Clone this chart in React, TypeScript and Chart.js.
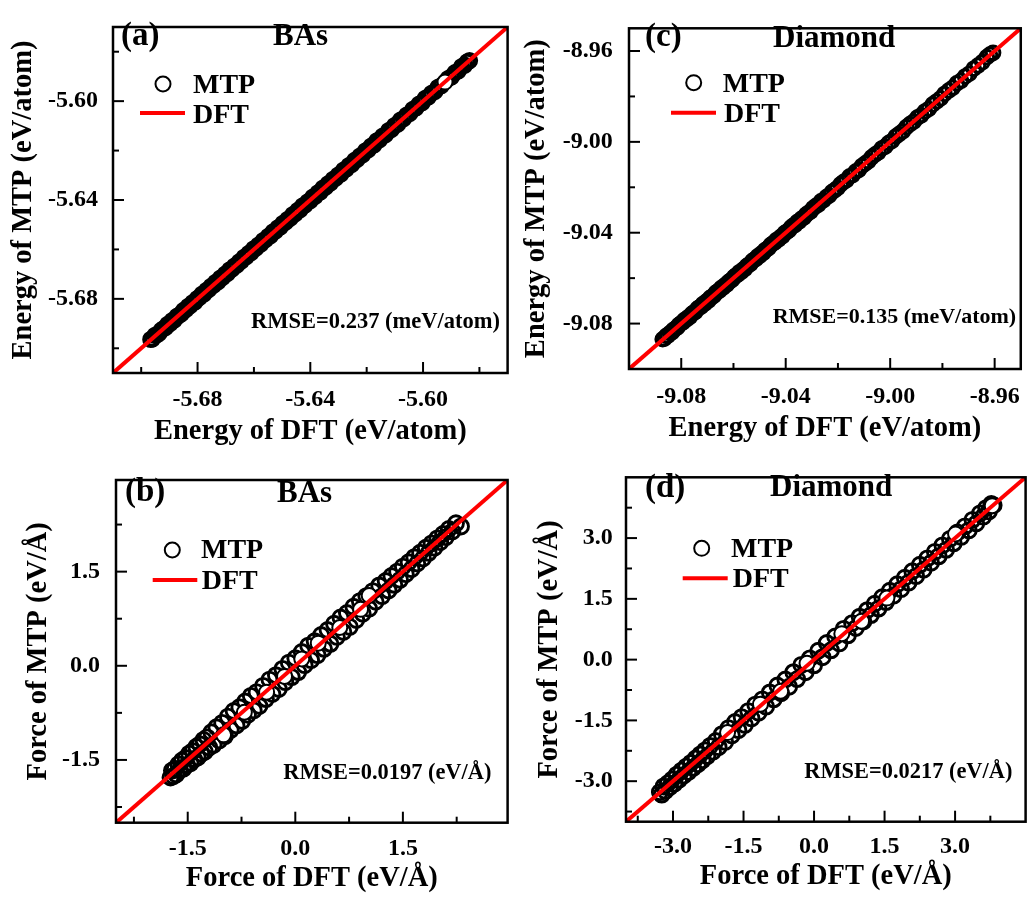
import React, { useEffect, useRef } from "react";
import { Chart, registerables } from "chart.js";

Chart.register(...registerables);

const SERIF = '"Liberation Serif", "Times New Roman", Times, serif';

// ---------------- Panel (a): BAs energy ----------------
const DFT_A = [
  -5.6966, -5.696, -5.6951, -5.6945, -5.6937, -5.6929, -5.6922, -5.6913, -5.6906, -5.6897,
  -5.689, -5.6882, -5.6873, -5.6866, -5.6857, -5.685, -5.6841, -5.6833, -5.6826, -5.6817,
  -5.6809, -5.6801, -5.6793, -5.6784, -5.6777, -5.6768, -5.676, -5.6752, -5.6743, -5.6736,
  -5.6727, -5.6719, -5.6711, -5.6702, -5.6694, -5.6686, -5.6677, -5.6669, -5.6661, -5.6652,
  -5.6644, -5.6635, -5.6627, -5.6618, -5.661, -5.6601, -5.6593, -5.6584, -5.6575, -5.6567,
  -5.6558, -5.6549, -5.6541, -5.6532, -5.6523, -5.6515, -5.6506, -5.6497, -5.6488, -5.648,
  -5.6471, -5.6462, -5.6453, -5.6444, -5.6436, -5.6427, -5.6418, -5.6409, -5.64, -5.6391,
  -5.6382, -5.6373, -5.6364, -5.6355, -5.6346, -5.6337, -5.6328, -5.6319, -5.631, -5.6301,
  -5.6291, -5.6282, -5.6272, -5.6263, -5.6253, -5.6243, -5.6234, -5.6224, -5.6214, -5.6204,
  -5.6194, -5.6184, -5.6174, -5.6164, -5.6154, -5.6143, -5.6133, -5.6122, -5.6112, -5.6101,
  -5.609, -5.608, -5.6069, -5.6058, -5.6047, -5.6036, -5.6025, -5.6014, -5.6003, -5.5992,
  -5.5981, -5.597, -5.5958, -5.5947, -5.5935, -5.5911, -5.5899, -5.5887, -5.5875, -5.5863,
  -5.5852, -5.5843, -5.5835, -5.5922,
];
const MTP_A = [
  -5.6964, -5.6962, -5.6948, -5.6946, -5.694, -5.6927, -5.6921, -5.6916, -5.6903, -5.6899,
  -5.6888, -5.6885, -5.6871, -5.6867, -5.686, -5.6847, -5.6843, -5.683, -5.6828, -5.6815,
  -5.6812, -5.6799, -5.6794, -5.6781, -5.678, -5.6766, -5.6762, -5.6749, -5.6745, -5.6733,
  -5.673, -5.6716, -5.6713, -5.67, -5.6697, -5.6683, -5.6679, -5.6667, -5.6664, -5.665,
  -5.6646, -5.6632, -5.6629, -5.6616, -5.6613, -5.6598, -5.6595, -5.6582, -5.6578, -5.6564,
  -5.656, -5.6547, -5.6544, -5.6529, -5.6525, -5.6513, -5.6509, -5.6494, -5.649, -5.6478,
  -5.6474, -5.6459, -5.6455, -5.6442, -5.6439, -5.6424, -5.642, -5.6407, -5.6403, -5.6388,
  -5.6384, -5.6371, -5.6367, -5.6352, -5.6348, -5.6335, -5.6331, -5.6316, -5.6312, -5.6299,
  -5.6294, -5.6279, -5.6274, -5.6261, -5.6256, -5.624, -5.6236, -5.6222, -5.6217, -5.6201,
  -5.6196, -5.6182, -5.6177, -5.6161, -5.6156, -5.6141, -5.6136, -5.6119, -5.6114, -5.6099,
  -5.6093, -5.6077, -5.6071, -5.6056, -5.605, -5.6033, -5.6027, -5.6012, -5.6006, -5.5989,
  -5.5983, -5.5968, -5.5961, -5.5944, -5.5937, -5.5909, -5.5902, -5.5885, -5.5878, -5.586,
  -5.5854, -5.5841, -5.5836, -5.5923,
];
const LINE_A = [-5.71, -5.57];
const TICKS_A = [-5.7, -5.68, -5.66, -5.64, -5.62, -5.6, -5.58];
const LABELS_A = [-5.68, -5.64, -5.6];

// ---------------- Panel (c): Diamond energy ----------------
const DFT_C = [
  -9.0871, -9.0865, -9.0857, -9.0851, -9.0843, -9.0836, -9.083, -9.0822, -9.0815, -9.0809,
  -9.0801, -9.0794, -9.0788, -9.078, -9.0773, -9.0767, -9.0759, -9.0752, -9.0746, -9.0738,
  -9.0731, -9.0724, -9.0717, -9.071, -9.0703, -9.0696, -9.0689, -9.0682, -9.0675, -9.0668,
  -9.0661, -9.0654, -9.0647, -9.064, -9.0633, -9.0626, -9.0619, -9.0612, -9.0605, -9.0598,
  -9.0591, -9.0584, -9.0577, -9.057, -9.0563, -9.0556, -9.0549, -9.0542, -9.0535, -9.0528,
  -9.0521, -9.0514, -9.0507, -9.05, -9.0493, -9.0486, -9.0479, -9.0472, -9.0465, -9.0457,
  -9.045, -9.0442, -9.0435, -9.0427, -9.042, -9.0412, -9.0404, -9.0396, -9.0388, -9.038,
  -9.0372, -9.0364, -9.0356, -9.0348, -9.034, -9.0331, -9.0322, -9.0313, -9.0304, -9.0295,
  -9.0285, -9.0275, -9.0265, -9.0255, -9.0244, -9.0234, -9.0223, -9.0212, -9.0201, -9.019,
  -9.0179, -9.0167, -9.0156, -9.0144, -9.0132, -9.012, -9.0108, -9.0096, -9.0083, -9.0071,
  -9.0058, -9.0045, -9.0032, -9.0019, -9.0006, -8.9993, -8.9979, -8.9966, -8.9952, -8.9938,
  -8.9924, -8.991, -8.9896, -8.9881, -8.9867, -8.9852, -8.9837, -8.9822, -8.9807, -8.9792,
  -8.9776, -8.9761, -8.9745, -8.9729, -8.9713, -8.9697, -8.968, -8.9664, -8.9647, -8.963,
  -8.9618, -8.9606,
];
const MTP_C = [
  -9.0869, -9.0866, -9.0854, -9.0853, -9.0842, -9.0839, -9.0828, -9.0822, -9.0817, -9.0806,
  -9.0799, -9.0795, -9.0785, -9.0782, -9.0772, -9.077, -9.0757, -9.0752, -9.0748, -9.0735,
  -9.0729, -9.0725, -9.0714, -9.0712, -9.0702, -9.0699, -9.0687, -9.0682, -9.0677, -9.0665,
  -9.0659, -9.0655, -9.0644, -9.0642, -9.0632, -9.0629, -9.0617, -9.0612, -9.0607, -9.0595,
  -9.0589, -9.0585, -9.0574, -9.0572, -9.0562, -9.0559, -9.0547, -9.0542, -9.0537, -9.0525,
  -9.0519, -9.0515, -9.0504, -9.0502, -9.0492, -9.0489, -9.0477, -9.0472, -9.0467, -9.0454,
  -9.0448, -9.0443, -9.0432, -9.0429, -9.0419, -9.0415, -9.0402, -9.0396, -9.039, -9.0377,
  -9.037, -9.0365, -9.0353, -9.035, -9.0339, -9.0334, -9.032, -9.0313, -9.0306, -9.0292,
  -9.0283, -9.0276, -9.0262, -9.0257, -9.0243, -9.0237, -9.0221, -9.0212, -9.0203, -9.0187,
  -9.0177, -9.0168, -9.0153, -9.0146, -9.0131, -9.0123, -9.0106, -9.0096, -9.0085, -9.0068,
  -9.0056, -9.0046, -9.0029, -9.0021, -9.0005, -8.9996, -8.9977, -8.9966, -8.9954, -8.9935,
  -8.9922, -8.9911, -8.9893, -8.9883, -8.9866, -8.9855, -8.9835, -8.9822, -8.9809, -8.9789,
  -8.9774, -8.9762, -8.9742, -8.9731, -8.9712, -8.97, -8.9678, -8.9664, -8.9649, -8.9627,
  -8.9616, -8.9608,
];
const LINE_C = [-9.1, -8.95];
const TICKS_C = [-9.08, -9.06, -9.04, -9.02, -9.0, -8.98, -8.96];
const LABELS_C = [-9.08, -9.04, -9.0, -8.96];

// ---------------- Panel (b): BAs force ----------------
const DFT_B = [
  -1.74, -1.72, -1.7, -1.68, -1.66, -1.63, -1.61, -1.58, -1.56, -1.53,
  -1.51, -1.48, -1.46, -1.43, -1.41, -1.38, -1.36, -1.33, -1.31, -1.28,
  -1.26, -1.23, -1.2, -1.17, -1.14,
  -1.1, -1.06, -1.02, -0.98, -0.94, -0.9, -0.86, -0.82, -0.78, -0.74,
  -0.7, -0.66, -0.62, -0.58, -0.54, -0.5, -0.45, -0.41, -0.36, -0.32,
  -0.27, -0.23, -0.18, -0.14, -0.09, -0.05, 0.0, 0.04, 0.09, 0.13,
  0.18, 0.22, 0.27, 0.31, 0.36,
  0.4, 0.45, 0.49, 0.54, 0.58, 0.63, 0.67, 0.72, 0.76, 0.81,
  0.85, 0.9, 0.94, 0.99, 1.03, 1.08, 1.12, 1.17, 1.21, 1.26,
  1.3, 1.34, 1.38, 1.42, 1.46, 1.5, 1.54, 1.58, 1.62, 1.66,
  1.7, 1.74, 1.78, 1.82, 1.86, 1.9, 1.94, 1.98, 2.02, 2.06,
  2.1, 2.14, 2.19, 2.24, 2.31,
  -1.0, -0.71, -0.4, -0.15, 0.09, 0.32, 0.62, 0.91, 1.03,
];
const MTP_B = [
  -1.78, -1.67, -1.76, -1.64, -1.73, -1.57, -1.66, -1.51, -1.64, -1.47,
  -1.58, -1.4, -1.55, -1.36, -1.49, -1.29, -1.46, -1.25, -1.4, -1.18,
  -1.37, -1.14, -1.3, -1.06, -1.26,
  -0.98, -1.19, -0.91, -1.12, -0.81, -1.02, -0.72, -0.95, -0.66, -0.88,
  -0.57, -0.78, -0.48, -0.71, -0.42, -0.64, -0.32, -0.53, -0.22, -0.45,
  -0.15, -0.37, -0.05, -0.26, 0.05, -0.18, 0.12, -0.1, 0.22, 0.01,
  0.32, 0.09, 0.39, 0.17, 0.49,
  0.27, 0.57, 0.35, 0.67, 0.46, 0.77, 0.54, 0.84, 0.62, 0.94,
  0.73, 1.03, 0.83, 1.11, 0.91, 1.19, 1.02, 1.28, 1.11, 1.35,
  1.2, 1.43, 1.29, 1.5, 1.37, 1.58, 1.46, 1.65, 1.54, 1.73,
  1.63, 1.8, 1.71, 1.88, 1.8, 1.95, 1.88, 2.03, 1.97, 2.1,
  2.05, 2.18, 2.14, 2.27, 2.22,
  -1.1, -0.74, -0.42, -0.17, 0.11, 0.36, 0.61, 0.9, 1.12,
];
const LINE_B = [-2.5, 2.96];
const TICKS_B = [-2.25, -1.5, -0.75, 0, 0.75, 1.5, 2.25];
const LABELS_B = [-1.5, 0, 1.5];

// ---------------- Panel (d): Diamond force ----------------
const DFT_D = [
  -3.28, -3.24, -3.2, -3.16, -3.11, -3.07, -3.02, -2.97, -2.92, -2.87,
  -2.82, -2.77, -2.72, -2.67, -2.62, -2.57, -2.52, -2.47, -2.42, -2.37,
  -2.32, -2.27, -2.21, -2.15, -2.09,
  -2.03, -1.96, -1.89, -1.82, -1.75, -1.68, -1.61, -1.54, -1.47, -1.4,
  -1.33, -1.25, -1.18, -1.1, -1.02, -0.94, -0.86, -0.78, -0.7, -0.61,
  -0.53, -0.44, -0.36, -0.27, -0.18, -0.09, 0.0, 0.09, 0.18, 0.27,
  0.36, 0.45, 0.54, 0.63, 0.72,
  0.81, 0.89, 0.97, 1.05, 1.13, 1.21, 1.29, 1.37, 1.45, 1.53,
  1.61, 1.69, 1.77, 1.85, 1.93, 2.01, 2.09, 2.17, 2.25, 2.33,
  2.41, 2.49, 2.57, 2.65, 2.73, 2.81, 2.89, 2.97, 3.05, 3.13,
  3.21, 3.29, 3.37, 3.45, 3.53, 3.6, 3.66, 3.72, 3.77, 3.82,
  -1.84, -1.14, -0.71, -0.15, 0.59, 1.01, 1.55, 3.01, 3.79,
];
const MTP_D = [
  -3.27, -3.33, -3.13, -3.24, -3.05, -3.15, -2.96, -3.06, -2.84, -2.96,
  -2.74, -2.86, -2.64, -2.77, -2.55, -2.67, -2.44, -2.58, -2.34, -2.48,
  -2.24, -2.38, -2.13, -2.27, -2.01,
  -2.16, -1.84, -2.03, -1.69, -1.87, -1.54, -1.74, -1.42, -1.61, -1.27,
  -1.45, -1.11, -1.31, -0.98, -1.16, -0.81, -0.98, -0.64, -0.83, -0.49,
  -0.67, -0.31, -0.48, -0.13, -0.31, 0.03, -0.14, 0.22, 0.06, 0.41,
  0.23, 0.57, 0.4, 0.76, 0.6,
  0.9, 0.78, 1.06, 0.94, 1.22, 1.1, 1.38, 1.26, 1.54, 1.42,
  1.7, 1.58, 1.86, 1.74, 2.02, 1.9, 2.18, 2.06, 2.34, 2.22,
  2.5, 2.39, 2.66, 2.55, 2.82, 2.71, 2.98, 2.87, 3.14, 3.03,
  3.29, 3.19, 3.45, 3.36, 3.61, 3.53, 3.74, 3.66, 3.84, 3.81,
  -1.8, -1.1, -0.78, -0.09, 0.64, 0.95, 1.52, 3.1, 3.8,
];
const LINE_D = [-4.0, 4.5];
const TICKS_D = [-3.75, -3, -2.25, -1.5, -0.75, 0, 0.75, 1.5, 2.25, 3, 3.75];
const LABELS_D = [-3, -1.5, 0, 1.5, 3];

type Pt = { x: number; y: number };
type PanelCfg = {
  key: string;
  left: number; top: number; w: number; h: number;
  dft: number[]; mtp: number[]; line: number[];
  ticks: number[]; labels: number[]; digits: number;
  fillFrom: number; bulkR: number; bulkBW: number;
  padTop: number; padRight: number; yAxisW: number; xAxisH: number;
  xTickPad: number; yTickPad: number; xTitlePad: number; yTitlePad: number;
  xTitle: string; yTitle: string;
  tag: [string, number, number];
  name: [string, number, number];
  legend: { cx: number; cy: number; mx: number; my: number; l1: number; l2: number; ly: number; dx: number; dy: number };
  rmse: [string, number, number, number];
};

const PANELS: PanelCfg[] = [
  {
    key: "a", left: 0, top: 0, w: 518, h: 452,
    dft: DFT_A, mtp: MTP_A, line: LINE_A, ticks: TICKS_A, labels: LABELS_A, digits: 2,
    fillFrom: 123, bulkR: 6.8, bulkBW: 3.6,
    padTop: 7, padRight: 6, yAxisW: 113, xAxisH: 79,
    xTickPad: 15, yTickPad: 15, xTitlePad: 6.2, yTitlePad: 9.4,
    xTitle: "Energy of DFT (eV/atom)", yTitle: "Energy of MTP (eV/atom)",
    tag: ["(a)", 121, 44.5], name: ["BAs", 273, 45],
    legend: { cx: 163, cy: 84, mx: 193, my: 93, l1: 140, l2: 185, ly: 113, dx: 193, dy: 123 },
    rmse: ["RMSE=0.237 (meV/atom)", 251, 328, 22.5],
  },
  {
    key: "c", left: 518, top: 0, w: 518, h: 452,
    dft: DFT_C, mtp: MTP_C, line: LINE_C, ticks: TICKS_C, labels: LABELS_C, digits: 2,
    fillFrom: 9999, bulkR: 6.8, bulkBW: 3,
    padTop: 7, padRight: 7, yAxisW: 111, xAxisH: 83,
    xTickPad: 15.7, yTickPad: 16.3, xTitlePad: 9.4, yTitlePad: 4.1,
    xTitle: "Energy of DFT (eV/atom)", yTitle: "Energy of MTP (eV/atom)",
    tag: ["(c)", 127, 46], name: ["Diamond", 255, 47],
    legend: { cx: 175.7, cy: 82.7, mx: 204.7, my: 92, l1: 153, l2: 198, ly: 112.7, dx: 206, dy: 122 },
    rmse: ["RMSE=0.135 (meV/atom)", 254.7, 323, 22],
  },
  {
    key: "b", left: 0, top: 452, w: 518, h: 447,
    dft: DFT_B, mtp: MTP_B, line: LINE_B, ticks: TICKS_B, labels: LABELS_B, digits: 1,
    fillFrom: 105, bulkR: 7.5, bulkBW: 2.9,
    padTop: 9.7, padRight: 3, yAxisW: 116, xAxisH: 76.3,
    xTickPad: 13.6, yTickPad: 16, xTitlePad: 6.35, yTitlePad: 24.1,
    xTitle: "Force of DFT (eV/Å)", yTitle: "Force of MTP (eV/Å)",
    tag: ["(b)", 125, 49], name: ["BAs", 277, 50],
    legend: { cx: 172.3, cy: 98, mx: 201, my: 106.3, l1: 152.7, l2: 197.3, ly: 128, dx: 201.7, dy: 137 },
    rmse: ["RMSE=0.0197 (eV/Å)", 283.3, 327.3, 22.4],
  },
  {
    key: "d", left: 518, top: 452, w: 518, h: 447,
    dft: DFT_D, mtp: MTP_D, line: LINE_D, ticks: TICKS_D, labels: LABELS_D, digits: 1,
    fillFrom: 100, bulkR: 7.5, bulkBW: 2.9,
    padTop: 4, padRight: 6.7, yAxisW: 108, xAxisH: 77.3,
    xTickPad: 13, yTickPad: 13.3, xTitlePad: 7.65, yTitlePad: 17.4,
    xTitle: "Force of DFT (eV/Å)", yTitle: "Force of MTP (eV/Å)",
    tag: ["(d)", 127, 44.7], name: ["Diamond", 252, 44],
    legend: { cx: 183.7, cy: 96.3, mx: 213, my: 104.7, l1: 164.7, l2: 209.7, ly: 126.3, dx: 214.7, dy: 134.7 },
    rmse: ["RMSE=0.0217 (eV/Å)", 286.3, 326.3, 22.4],
  },
];

const POINT_R = 7.5;
const POINT_BW = 2;
const RED = "#ff0000";

function isMajor(labels: number[], v: number) {
  return labels.some((m) => Math.abs(m - v) < 1e-9);
}

function decorPlugin(p: PanelCfg) {
  return {
    id: "decor-" + p.key,
    afterDraw(chart: any) {
      const { ctx, chartArea: a, scales } = chart;
      ctx.save();
      ctx.strokeStyle = "#000";
      ctx.lineWidth = 2;
      ctx.lineCap = "butt";
      for (const t of scales.x.ticks) {
        const px = scales.x.getPixelForValue(t.value);
        const len = isMajor(p.labels, t.value) ? 11 : 6;
        ctx.beginPath();
        ctx.moveTo(px, a.bottom);
        ctx.lineTo(px, a.bottom - len);
        ctx.stroke();
      }
      for (const t of scales.y.ticks) {
        const py = scales.y.getPixelForValue(t.value);
        const len = isMajor(p.labels, t.value) ? 11 : 6;
        ctx.beginPath();
        ctx.moveTo(a.left, py);
        ctx.lineTo(a.left + len, py);
        ctx.stroke();
      }
      ctx.lineWidth = 2.5;
      ctx.strokeRect(a.left, a.top, a.right - a.left, a.bottom - a.top);

      ctx.fillStyle = "#000";
      ctx.textAlign = "left";
      ctx.textBaseline = "alphabetic";
      ctx.font = `bold 33px ${SERIF}`;
      ctx.fillText(p.tag[0], p.tag[1], p.tag[2]);
      ctx.font = `bold 31px ${SERIF}`;
      ctx.fillText(p.name[0], p.name[1], p.name[2]);

      const L = p.legend;
      ctx.beginPath();
      ctx.arc(L.cx, L.cy, POINT_R, 0, Math.PI * 2);
      ctx.fillStyle = "#fff";
      ctx.fill();
      ctx.lineWidth = POINT_BW;
      ctx.strokeStyle = "#000";
      ctx.stroke();
      ctx.beginPath();
      ctx.moveTo(L.l1, L.ly);
      ctx.lineTo(L.l2, L.ly);
      ctx.strokeStyle = RED;
      ctx.lineWidth = 4;
      ctx.stroke();
      ctx.fillStyle = "#000";
      ctx.font = `bold 28px ${SERIF}`;
      ctx.fillText("MTP", L.mx, L.my);
      ctx.fillText("DFT", L.dx, L.dy);

      ctx.font = `bold ${p.rmse[3]}px ${SERIF}`;
      ctx.fillText(p.rmse[0], p.rmse[1], p.rmse[2]);
      ctx.restore();
    },
  };
}

function Panel({ p }: { p: PanelCfg }) {
  const ref = useRef<HTMLCanvasElement | null>(null);
  useEffect(() => {
    if (!ref.current) return;
    const pts: Pt[] = p.dft.map((x, i) => ({ x, y: p.mtp[i] }));
    const bulk = pts.slice(0, p.fillFrom);
    const front = pts.slice(p.fillFrom);
    const linePts: Pt[] = p.line.map((v) => ({ x: v, y: v }));
    const tickFont = { family: SERIF, size: 24, weight: "bold" as const, lineHeight: 1 };
    const titleFont = { family: SERIF, size: 28.5, weight: "bold" as const, lineHeight: 1 };
    const fmt = (v: any) => (isMajor(p.labels, Number(v)) ? Number(v).toFixed(p.digits) : "");
    const axisBase = (isX: boolean) => ({
      type: "linear" as const,
      min: p.line[0],
      max: p.line[1],
      afterBuildTicks: (s: any) => {
        s.ticks = p.ticks.map((v) => ({ value: v }));
      },
      afterFit: (s: any) => {
        if (isX) s.height = p.xAxisH;
        else s.width = p.yAxisW;
      },
      grid: { display: false, drawTicks: false, tickLength: 0 },
      border: { display: false },
      ticks: {
        autoSkip: false,
        maxRotation: 0,
        minRotation: 0,
        padding: isX ? p.xTickPad : p.yTickPad,
        color: "#000",
        font: tickFont,
        callback: fmt,
      },
      title: {
        display: true,
        text: isX ? p.xTitle : p.yTitle,
        color: "#000",
        font: titleFont,
        padding: isX ? { top: 0, bottom: p.xTitlePad } : { top: p.yTitlePad, bottom: 0 },
      },
    });
    const scatterStyle = (fill: string, r: number, bw: number, order: number) => ({
      pointStyle: "circle",
      pointRadius: r,
      radius: r,
      pointBorderWidth: bw,
      pointBorderColor: "#000",
      pointBackgroundColor: fill,
      borderColor: "#000",
      backgroundColor: fill,
      borderWidth: bw,
      showLine: false,
      order,
    });
    const chart = new Chart(ref.current, {
      type: "scatter",
      data: {
        datasets: [
          {
            label: "DFT",
            data: linePts,
            showLine: true,
            borderColor: RED,
            backgroundColor: RED,
            borderWidth: 4,
            pointRadius: 0,
            order: 0,
          } as any,
          { label: "MTP", data: front, ...scatterStyle("#ffffff", POINT_R, POINT_BW, 1) } as any,
          { label: "MTP bulk", data: bulk, ...scatterStyle("transparent", p.bulkR, p.bulkBW, 2) } as any,
        ],
      },
      options: {
        responsive: false,
        animation: false,
        devicePixelRatio: 1,
        events: [],
        layout: { padding: { top: p.padTop, right: p.padRight, left: 0, bottom: 0 } },
        plugins: { legend: { display: false }, tooltip: { enabled: false }, colors: { enabled: false } } as any,
        scales: { x: axisBase(true) as any, y: axisBase(false) as any },
      },
      plugins: [decorPlugin(p)],
    });
    return () => chart.destroy();
  }, [p]);
  return (
    <canvas
      ref={ref}
      width={p.w}
      height={p.h}
      style={{ position: "absolute", left: p.left, top: p.top, width: p.w, height: p.h }}
    />
  );
}

export default function App() {
  return (
    <div style={{ position: "absolute", left: 0, top: 0, width: 1036, height: 899, background: "#fff", overflow: "hidden" }}>
      {PANELS.map((p) => (
        <Panel key={p.key} p={p} />
      ))}
    </div>
  );
}
